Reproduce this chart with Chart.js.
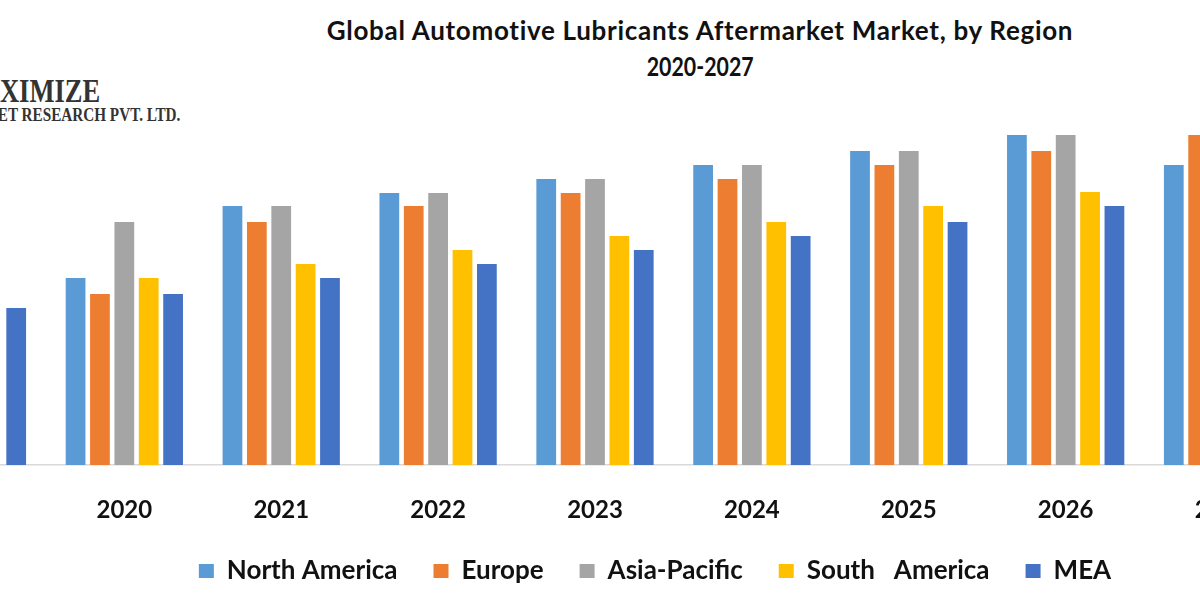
<!DOCTYPE html>
<html>
<head>
<meta charset="utf-8">
<script src="https://cdn.jsdelivr.net/npm/chart.js@4.4.1/dist/chart.umd.min.js"></script>
<style>
    html, body { margin: 0; padding: 0; background: #fff; }
    body { position: relative; width: 1200px; height: 600px; overflow: hidden; font-family: Lato, 'Liberation Sans', sans-serif; }
    #wrap { position: absolute; left: -111px; top: 0; width: 1532px; height: 600px; }
    .title { position: absolute; left: 300px; top: 12px; width: 800px; text-align: center; font-weight: bold; font-size: 26px; letter-spacing: 0.7px; line-height: 36px; color: #111; }
    .title .years { display: inline-block; letter-spacing: 0; transform: scaleX(0.82); }
    .logo { position: absolute; right: 1100px; white-space: nowrap; font-family: 'Liberation Serif', serif; font-weight: bold; color: #333; transform: scaleX(0.78); transform-origin: right center; }
</style>
</head>
<body>
<div class="title">Global Automotive Lubricants Aftermarket Market, by Region<br><span class="years">2020-2027</span></div>
<div class="logo" style="top:74px;font-size:34px;line-height:34px;">MAXIMIZE</div>
<div class="logo" style="right:1020px;top:105px;font-size:19px;line-height:19px;transform:scaleX(0.80);">MARKET RESEARCH PVT. LTD.</div>
<div id="wrap"><canvas id="regionChart"></canvas></div>
<script>
    // values (arbitrary units, no axis shown)
    const years = ['2019', '2020', '2021', '2022', '2023', '2024', '2025', '2026', '2027'];
    const northAmerica = [null, 18.7, 25.9, 27.2, 28.6, 30.0, 31.4, 33.0, 30.0];
    const europe = [null, 17.1, 24.3, 25.9, 27.2, 28.6, 30.0, 31.4, 33.0];
    const asiaPacific = [null, 24.3, 25.9, 27.2, 28.6, 30.0, 31.4, 33.0, null];
    const southAmerica = [null, 18.7, 20.1, 21.5, 22.9, 24.3, 25.9, 27.3, null];
    const mea = [15.7, 17.1, 18.7, 20.1, 21.5, 22.9, 24.3, 25.9, null];

    const regionChart = document.querySelector('#regionChart');
    new Chart(regionChart, {
        type: 'bar',
        data: {
            labels: years,
            datasets: [
                { label: 'North America', data: northAmerica, backgroundColor: '#5B9BD5' },
                { label: 'Europe', data: europe, backgroundColor: '#ED7D31' },
                { label: 'Asia-Pacific', data: asiaPacific, backgroundColor: '#A5A5A5' },
                { label: 'South   America', data: southAmerica, backgroundColor: '#FFC000' },
                { label: 'MEA', data: mea, backgroundColor: '#4472C4' },
            ],
        },
        options: {
            responsive: true,
            maintainAspectRatio: false,
            animation: false,
            datasets: {
                bar: { categoryPercentage: 0.777, barPercentage: 0.81 },
            },
            layout: { padding: { top: 105, bottom: 6 } },
            plugins: {
                tooltip: { enabled: false },
                legend: {
                    position: 'bottom',
                    labels: {
                        boxWidth: 15,
                        boxHeight: 14,
                        padding: 36,
                        color: '#111',
                        font: { family: 'Lato', size: 26, weight: 'bold' },
                    },
                },
            },
            scales: {
                x: {
                    grid: { display: false, drawTicks: false },
                    border: { color: '#d9d9d9', width: 1.5 },
                    ticks: {
                        padding: 31,
                        color: '#111',
                        font: { family: 'Lato', size: 24, weight: 'bold' },
                    },
                    // fixed axis height so the plot bottom lands where the original has it
                    afterFit: scale => { scale.height = 57; },
                },
                y: {
                    position: 'right',
                    min: 0,
                    max: 36,
                    grid: { display: false, drawTicks: false },
                    border: { display: false },
                    ticks: { display: false },
                    // empty space on the right so the legend sits where the original has it
                    afterFit: scale => { scale.width = 120; },
                },
            },
        },
    });
</script>
</body>
</html>
